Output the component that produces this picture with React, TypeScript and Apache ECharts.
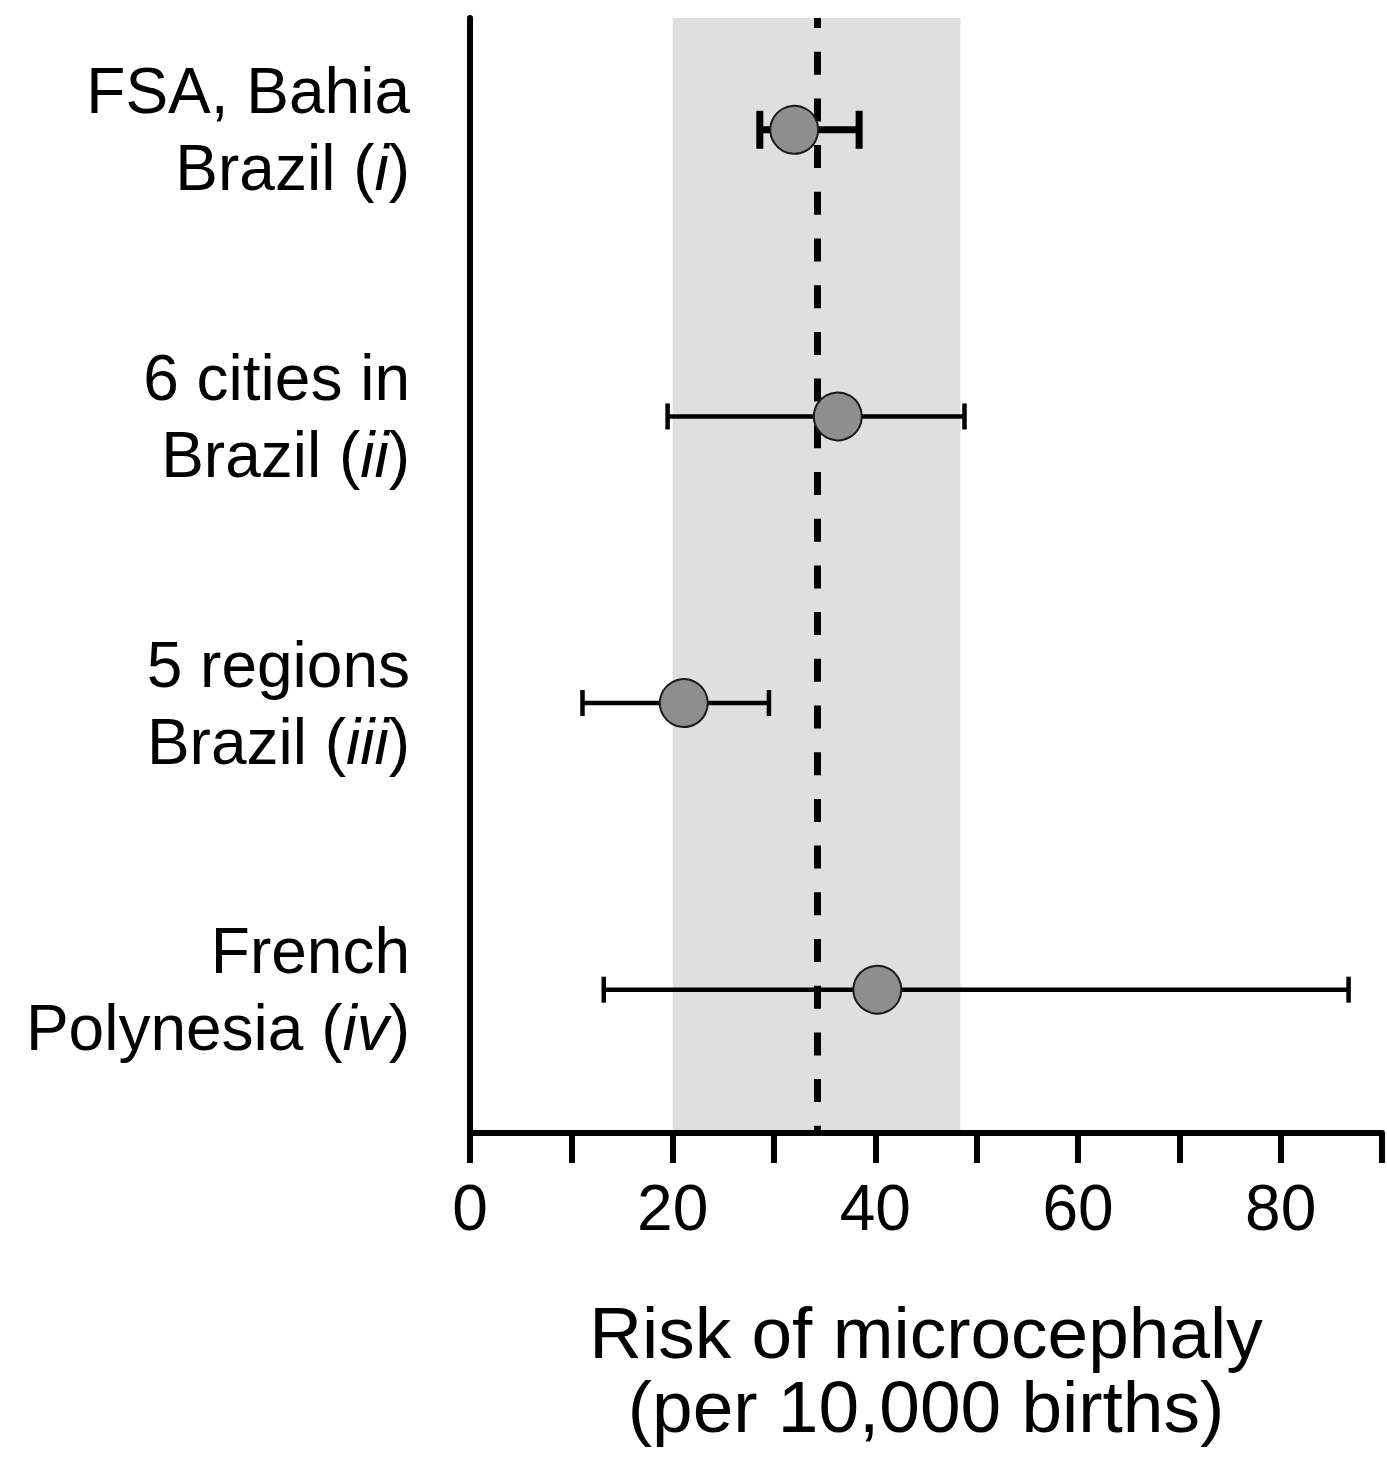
import React, { useEffect, useRef } from "react";
import * as echarts from "echarts";

// ---- data ----
const studyLine1 = ["FSA, Bahia", "6 cities in", "5 regions", "French"];
const studyLine2 = ["Brazil", "Brazil", "Brazil", "Polynesia"];
const studyNumerals = ["i", "ii", "iii", "iv"];
const rowPositions = [1, 2, 3, 4];
const estimates = [32.0, 36.3, 21.1, 40.2];
const lowerCI = [28.6, 19.5, 11.1, 13.2];
const upperCI = [38.4, 48.8, 29.5, 86.7];
const pooledEstimate = 34.25;
const pooledLower = 20.0;
const pooledUpper = 48.4;
const xTickValues = [0, 20, 40, 60, 80];

// ---- styles (not data) ----
const barWidths = [7, 4.5, 4.5, 4.5];
const capHeights = [38, 26, 26, 26];
const FONT = "'Liberation Sans', Arial, Helvetica, sans-serif";

export default function App() {
  const ref = useRef<HTMLDivElement>(null);
  useEffect(() => {
    if (!ref.current) return;
    const chart = echarts.init(ref.current, null, { renderer: "svg" });

    const errData = rowPositions.map((y, i) => [lowerCI[i], upperCI[i], y, i]);
    const ptData = rowPositions.map((y, i) => [estimates[i], y]);

    chart.setOption({
      animation: false,
      backgroundColor: "#ffffff",
      grid: { left: 470, right: 5, top: 18, bottom: 333, containLabel: false },
      xAxis: {
        type: "value",
        min: 0,
        max: 90,
        interval: 10,
        z: 10,
        axisLine: { show: true, lineStyle: { color: "#000", width: 6 } },
        axisTick: { show: true, inside: false, length: 30, lineStyle: { color: "#000", width: 6 } },
        splitLine: { show: false },
        axisLabel: {
          margin: 43,
          fontSize: 64,
          lineHeight: 64,
          color: "#000",
          fontFamily: FONT,
          formatter: (v: number) => (xTickValues.indexOf(v) >= 0 ? String(v) : ""),
        },
        name: "Risk of microcephaly\n(per 10,000 births)",
        nameLocation: "middle",
        nameGap: 162,
        nameTextStyle: { fontSize: 73, lineHeight: 74, color: "#000", fontFamily: FONT },
      },
      yAxis: {
        type: "value",
        min: 0.61,
        max: 4.5,
        inverse: true,
        z: 10,
        axisLine: { show: true, lineStyle: { color: "#000", width: 6 } },
        axisTick: { show: false },
        splitLine: { show: false },
        axisLabel: {
          customValues: rowPositions,
          margin: 60,
          fontSize: 64,
          lineHeight: 77,
          color: "#000",
          fontFamily: FONT,
          formatter: (v: number) => {
            const i = rowPositions.indexOf(v);
            if (i < 0) return "";
            return studyLine1[i] + "\n" + studyLine2[i] + " ({it|" + studyNumerals[i] + "})";
          },
          rich: {
            it: { fontStyle: "italic", fontSize: 64, lineHeight: 77, color: "#000", fontFamily: FONT },
          },
        },
      },
      series: [
        {
          type: "custom",
          z: 3,
          data: errData,
          renderItem: (params: any, api: any) => {
            const lo = api.coord([api.value(0), api.value(2)]);
            const hi = api.coord([api.value(1), api.value(2)]);
            const idx = api.value(3);
            const w = barWidths[idx];
            const h = capHeights[idx] / 2;
            const style = { stroke: "#000", lineWidth: w };
            return {
              type: "group",
              children: [
                { type: "line", shape: { x1: lo[0], y1: lo[1], x2: hi[0], y2: hi[1] }, style },
                { type: "line", shape: { x1: lo[0], y1: lo[1] - h, x2: lo[0], y2: lo[1] + h }, style },
                { type: "line", shape: { x1: hi[0], y1: hi[1] - h, x2: hi[0], y2: hi[1] + h }, style },
              ],
            };
          },
          markArea: {
            silent: true,
            itemStyle: { color: "#dfdfdf" },
            data: [[{ xAxis: pooledLower }, { xAxis: pooledUpper }]],
          },
        },
        {
          type: "line",
          data: [],
          z: 2,
          markLine: {
            silent: true,
            symbol: ["none", "none"],
            label: { show: false },
            lineStyle: { color: "#000", width: 7, type: [23, 23.7], dashOffset: 13 },
            data: [{ xAxis: pooledEstimate }],
          },
        },
        {
          type: "scatter",
          z: 5,
          data: ptData,
          symbol: "circle",
          symbolSize: 48,
          itemStyle: { color: "#8e8e8e", borderColor: "#1a1a1a", borderWidth: 2, opacity: 1 },
        },
      ],
    });
    return () => chart.dispose();
  }, []);
  return (
    <div
      ref={ref}
      style={{ position: "absolute", left: 0, top: 0, width: 1387, height: 1466, background: "#fff" }}
    />
  );
}
